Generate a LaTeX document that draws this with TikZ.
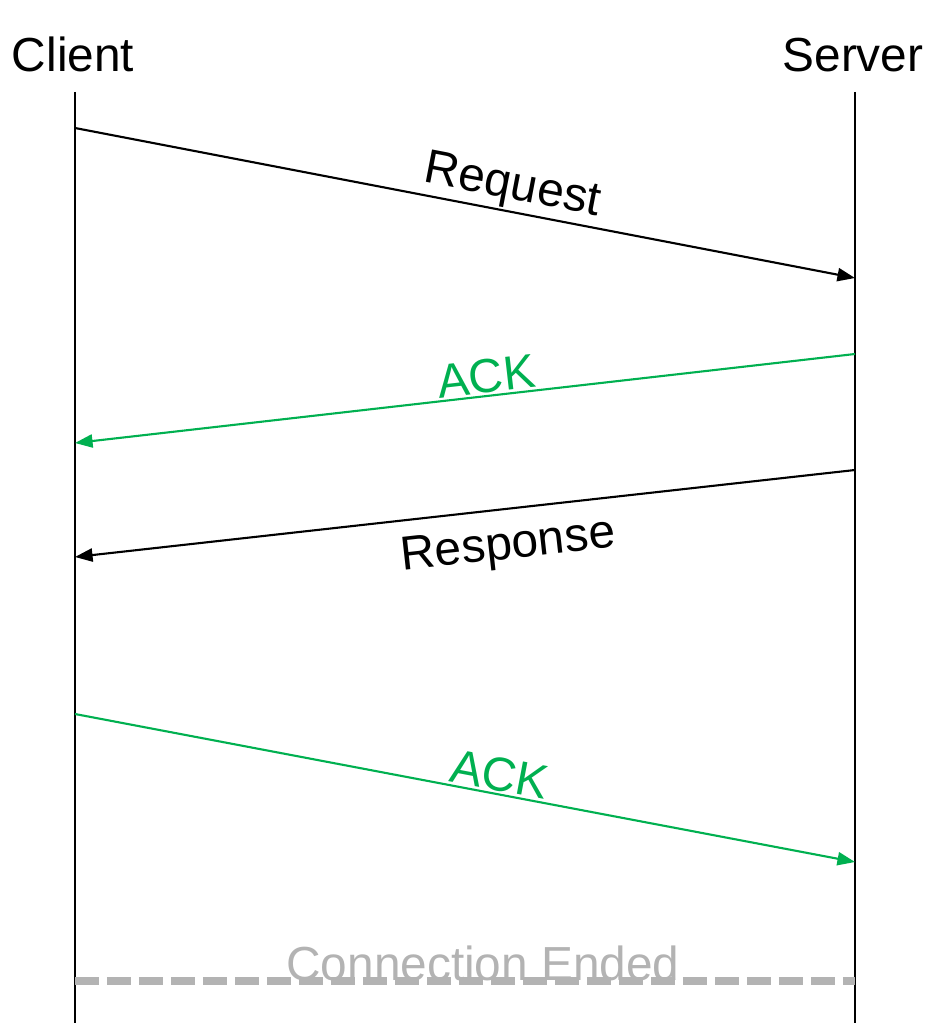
\documentclass[tikz,border=0pt]{standalone}
\usepackage{fontspec}
\setmainfont{Liberation Sans}
\usetikzlibrary{arrows.meta}
\definecolor{ackgreen}{RGB}{0,176,80}
\definecolor{endgrey}{RGB}{179,179,179}
\tikzset{
  lbl/.style={font=\fontsize{27.2}{31}\selectfont,inner sep=1pt},
  msg/.style={line width=1.2pt,-{Triangle[length=10pt,width=7.5pt]}},
}
\begin{document}
\begin{tikzpicture}[x=0.02cm,y=-0.02cm]
        \useasboundingbox (0,0) rectangle (928,1023);
        \draw (73,72) node[lbl,anchor=base](client){Client};
        \draw (853,72) node[lbl,anchor=base](server){Server};
        % lifelines
        \coordinate (ctop) at (75,92);
        \coordinate (cbot) at (75,1023);
        \coordinate (stop) at (855,92);
        \coordinate (sbot) at (855,1023);
        \draw[line width=1.2pt] (ctop) -- (cbot) (stop) -- (sbot);
        % message ends
        \coordinate (c1) at (75,128);
        \coordinate (s1) at (855,278);
        \coordinate (s2) at (855,354);
        \coordinate (c2) at (75,443);
        \coordinate (s3) at (855,470);
        \coordinate (c3) at (75,557);
        \coordinate (c4) at (75,714);
        \coordinate (s4) at (855,862);
        \coordinate (c5) at (75,981);
        \coordinate (s5) at (855,981);
        \draw[msg]
          (c1) -- node[lbl,above,sloped,pos=0.555]{Request} (s1);
        \draw[msg,ackgreen]
          (s2) -- node[lbl,above,sloped,pos=0.47]{ACK} (c2);
        \draw[msg]
          (s3) -- node[lbl,below=8pt,sloped,pos=0.45]{Response} (c3);
        \draw[msg,ackgreen]
          (c4) -- node[lbl,above,sloped,pos=0.54]{ACK} (s4);
        \draw[endgrey,line width=4pt,dash pattern=on 0.48cm off 0.16cm] (c5) -- (s5);
        \draw (483,980) node[lbl,anchor=base,text=endgrey](ended){Connection Ended};
      \end{tikzpicture}
\end{document}
